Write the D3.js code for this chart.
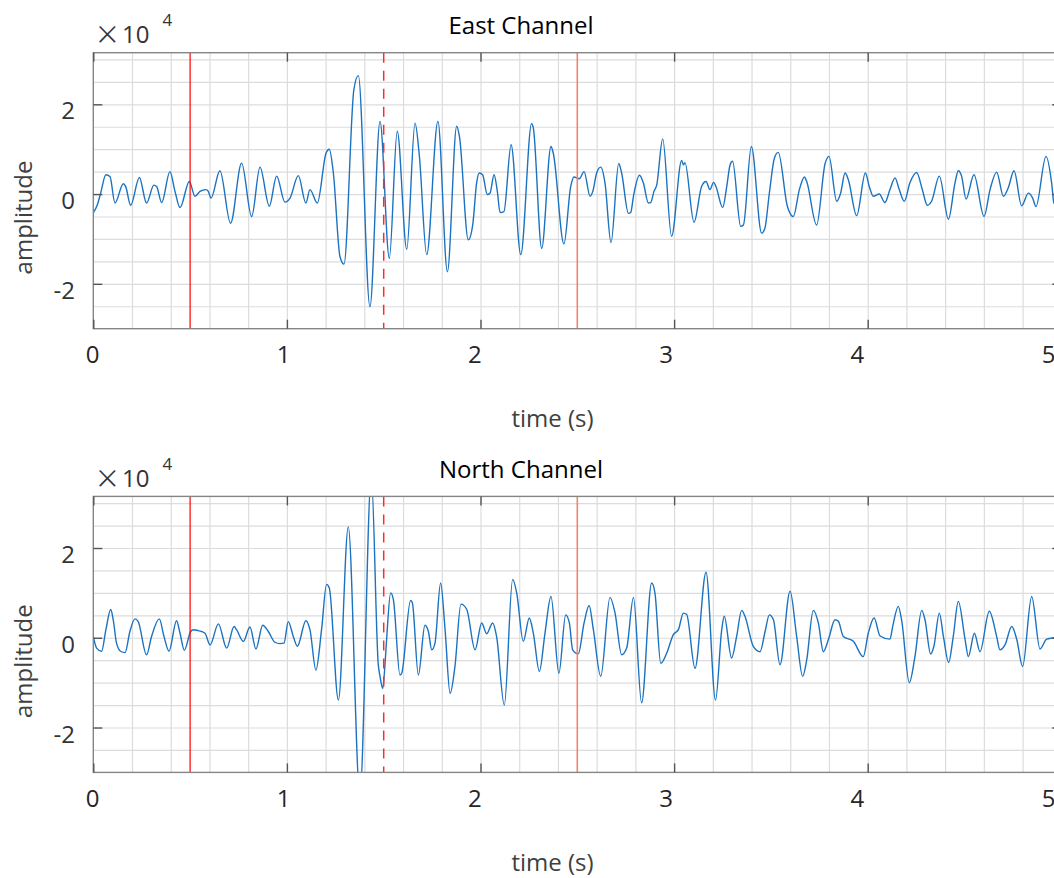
<!DOCTYPE html>
<html>
<head>
<meta charset="utf-8">
<script src="https://cdn.jsdelivr.net/npm/d3@7"></script>
<style>
  body { margin: 0; background: #fff; }
  svg { display: block; font-family: "Open Sans", sans-serif; }
</style>
</head>
<body>
<svg id="chart"></svg>
<script>
// amplitudes are in units of 10^4 counts, time in seconds
const eastTrace = [
  [0,-0.42],[0.021,-0.24],[0.038,0.02],[0.065,0.43],[0.086,0.39],[0.112,-0.2],[0.155,0.23],[0.167,0.17],
  [0.193,-0.25],[0.238,0.37],[0.275,-0.2],[0.313,0.2],[0.327,0.17],[0.353,-0.19],[0.396,0.5],[0.422,0.06],
  [0.448,-0.3],[0.496,0.28],[0.525,-0.05],[0.551,0.06],[0.582,0.1],[0.594,0.06],[0.608,-0.09],[0.654,0.52],
  [0.709,-0.65],[0.766,0.69],[0.818,-0.5],[0.861,0.6],[0.909,-0.27],[0.947,0.4],[0.990,-0.18],[1.016,-0.09],
  [1.059,0.41],[1.098,-0.2],[1.119,0.1],[1.157,-0.2],[1.202,0.91],[1.219,1.0],[1.240,0.47],[1.274,-1.39],
  [1.295,-1.56],[1.346,2.33],[1.369,2.64],[1.429,-2.51],[1.481,1.62],[1.529,-1.43],[1.570,1.40],[1.619,-1.23],
  [1.662,1.58],[1.684,0.86],[1.722,-1.35],[1.780,1.62],[1.829,-1.73],[1.877,1.51],[1.891,1.29],[1.937,-1.02],
  [1.960,-0.68],[1.980,0.25],[1.994,0.47],[2.011,0.43],[2.035,-0.01],[2.049,0.02],[2.070,0.43],[2.087,0.06],
  [2.101,-0.41],[2.121,-0.39],[2.158,1.1],[2.208,-1.35],[2.264,1.57],[2.273,1.47],[2.316,-1.21],[2.364,1.06],
  [2.376,0.91],[2.431,-1.11],[2.466,0.17],[2.483,0.38],[2.510,0.34],[2.535,0.5],[2.566,-0.05],[2.580,0.06],
  [2.600,0.47],[2.621,0.6],[2.643,0.25],[2.674,-1.08],[2.714,0.68],[2.729,0.47],[2.764,-0.43],[2.776,-0.41],
  [2.790,-0.05],[2.821,0.42],[2.841,0.25],[2.867,-0.2],[2.879,-0.19],[2.896,0.06],[2.910,0.2],[2.941,1.23],
  [2.987,-0.94],[3.039,0.75],[3.048,0.65],[3.056,0.7],[3.103,-0.63],[3.142,0.17],[3.165,0.28],[3.185,0.1],
  [3.204,0.26],[3.216,0.17],[3.251,-0.3],[3.272,0.17],[3.289,0.65],[3.302,0.73],[3.344,-0.72],[3.358,-0.69],
  [3.399,1.06],[3.452,-0.87],[3.469,-0.76],[3.492,0.02],[3.518,0.8],[3.538,0.93],[3.585,-0.27],[3.616,-0.5],
  [3.647,0.1],[3.673,0.38],[3.685,0.28],[3.736,-0.69],[3.780,0.68],[3.800,0.84],[3.840,-0.16],[3.860,0.02],
  [3.883,0.47],[3.900,0.32],[3.943,-0.48],[3.988,0.47],[4.008,0.17],[4.029,-0.05],[4.060,0],[4.089,-0.19],
  [4.115,0.1],[4.141,0.36],[4.163,0.1],[4.189,-0.16],[4.218,0.25],[4.253,0.48],[4.282,0.1],[4.308,-0.25],
  [4.330,-0.16],[4.370,0.4],[4.417,-0.56],[4.451,0.25],[4.468,0.52],[4.485,0.4],[4.508,-0.11],[4.549,0.43],
  [4.601,-0.5],[4.632,0.1],[4.666,0.49],[4.701,-0.05],[4.726,0.14],[4.756,0.52],[4.795,-0.26],[4.830,0.02],
  [4.852,-0.09],[4.869,-0.28],[4.921,0.84],[4.950,0.25],[4.962,-0.2],[5.0,-0.3]
];

const northTrace = [
  [0,0.03],[0.017,-0.23],[0.043,-0.3],[0.065,0.18],[0.09,0.63],[0.103,0.4],[0.12,-0.12],[0.141,-0.3],
  [0.164,-0.33],[0.189,0.14],[0.215,0.42],[0.232,0.36],[0.275,-0.38],[0.301,0.03],[0.341,0.42],[0.365,0.03],
  [0.391,-0.3],[0.43,0.38],[0.448,0.1],[0.47,-0.28],[0.503,0.14],[0.517,0.18],[0.542,0.16],[0.577,0.1],
  [0.603,-0.16],[0.646,0.31],[0.689,-0.23],[0.727,0.25],[0.740,0.18],[0.775,-0.08],[0.809,0.24],[0.84,-0.25],
  [0.875,0.28],[0.904,0.14],[0.938,-0.1],[0.964,-0.13],[0.985,-0.12],[1.007,0.36],[1.033,0.03],[1.054,-0.19],
  [1.098,0.38],[1.119,0.18],[1.15,-0.72],[1.179,0.18],[1.205,1.19],[1.219,1.11],[1.266,-1.39],[1.317,2.47],
  [1.377,-3.5],[1.436,3.6],[1.472,-0.6],[1.481,-0.86],[1.495,-1.13],[1.507,-0.57],[1.515,-0.04],[1.536,1.0],
  [1.550,0.85],[1.584,-0.83],[1.593,-0.79],[1.639,0.83],[1.648,0.78],[1.679,-0.83],[1.713,0.28],[1.731,0.14],
  [1.748,-0.27],[1.765,-0.12],[1.794,1.22],[1.817,0.18],[1.843,-1.24],[1.868,-0.64],[1.899,0.75],[1.929,0.63],
  [1.972,-0.27],[2.006,0.33],[2.032,0.09],[2.063,0.33],[2.083,0.03],[2.123,-1.5],[2.166,1.3],[2.187,1.0],
  [2.221,-0.08],[2.252,0.44],[2.273,0.1],[2.304,-0.75],[2.333,0.1],[2.364,0.92],[2.405,-0.79],[2.440,0.51],
  [2.459,0.33],[2.476,-0.27],[2.505,-0.36],[2.535,0.33],[2.561,0.72],[2.583,0.18],[2.621,-0.86],[2.669,0.9],
  [2.695,0.55],[2.729,-0.38],[2.755,-0.23],[2.790,0.9],[2.832,-1.45],[2.884,1.22],[2.901,1.0],[2.931,-0.57],
  [2.962,-0.34],[2.996,0.07],[3.022,0.18],[3.048,0.55],[3.065,0.52],[3.108,-0.68],[3.165,1.46],[3.214,-1.39],
  [3.246,0.18],[3.259,0.48],[3.297,-0.45],[3.323,0.03],[3.349,0.61],[3.366,0.48],[3.409,-0.19],[3.444,-0.31],
  [3.470,0.14],[3.492,0.51],[3.513,0.4],[3.547,-0.6],[3.599,1.04],[3.633,0.03],[3.664,-0.86],[3.685,-0.49],
  [3.719,0.61],[3.745,0.33],[3.771,-0.31],[3.797,-0.04],[3.831,0.4],[3.848,0.37],[3.874,0.03],[3.926,-0.08],
  [3.977,-0.42],[4.003,0.1],[4.033,0.44],[4.064,0.04],[4.115,-0.03],[4.129,0.25],[4.158,0.7],[4.175,0.4],
  [4.215,-1.0],[4.244,-0.42],[4.279,0.61],[4.296,0.4],[4.325,-0.36],[4.342,-0.19],[4.370,0.55],[4.391,0.03],
  [4.418,-0.55],[4.442,0.03],[4.468,0.81],[4.503,-0.04],[4.520,-0.42],[4.551,0.1],[4.580,-0.31],[4.628,0.59],
  [4.666,0.03],[4.683,-0.27],[4.709,-0.16],[4.744,0.25],[4.770,-0.04],[4.800,-0.64],[4.847,0.92],[4.890,-0.25],
  [4.924,-0.03],[4.959,0],[5.0,0.05]
];

const panelTitles = ['East Channel', 'North Channel'];
const xTickValues = [0, 1, 2, 3, 4, 5];
const yTickValues = [-2, 0, 2];
const markerTimes = [0.5, 1.5, 2.5];

let width = 1054;
let height = 878;
let margin = { left: 93.3 };
let plotW = 968;
let plotH = 276;
let panelTops = [52.7, 496.4];

let svg = d3.select('#chart')
  .attr('width', width)
  .attr('height', height);

let x = d3.scaleLinear().domain([0, 5]).range([0, plotW]);
let y = d3.scaleLinear().domain([-3, 3.15]).range([plotH, 0]);
// tick labels sit slightly left of their ticks in the original
let xLab = d3.scaleLinear().domain([0, 5]).range([92 - margin.left, 1048 - margin.left]);

const MARKER_STYLE = [
  { color: '#ff0000', width: 1.2, dash: null },
  { color: '#ff2a2a', width: 1.5, dash: '10,8' },
  { color: '#f4846c', width: 1.6, dash: null }
];

function drawPanel(i, trace) {
  let top = panelTops[i];
  let g = svg.append('g').attr('transform', `translate(${margin.left},${top})`);

  // grid (minor every 0.2 s, 0.5 units)
  g.append('g')
    .attr('transform', `translate(0,${plotH})`)
    .call(d3.axisBottom(x).tickValues(d3.range(1, 25).map(k => k * 0.2)).tickSize(-plotH).tickFormat(''))
    .call(a => a.select('.domain').remove())
    .call(a => a.selectAll('line').attr('stroke', '#dcdcdc').attr('stroke-width', 1.2));

  g.append('g')
    .call(d3.axisLeft(y).tickValues(d3.range(-5, 7).map(k => k * 0.5)).tickSize(-plotW).tickFormat(''))
    .call(a => a.select('.domain').remove())
    .call(a => a.selectAll('line').attr('stroke', '#dcdcdc').attr('stroke-width', 1.2));

  // waveform, clipped to the axes box
  let clipId = 'clip-' + i;
  g.append('clipPath').attr('id', clipId)
    .append('rect').attr('width', plotW).attr('height', plotH);

  let line = d3.line()
    .x(d => x(d[0]))
    .y(d => y(d[1]))
    .curve(d3.curveMonotoneX);

  g.append('path')
    .datum(trace)
    .attr('clip-path', `url(#${clipId})`)
    .attr('fill', 'none')
    .attr('stroke', '#1a72c0')
    .attr('stroke-width', 1.4)
    .attr('stroke-linejoin', 'round')
    .attr('d', line);

  // picked time markers
  g.selectAll('.marker')
    .data(markerTimes)
    .enter()
    .append('line')
      .attr('class', 'marker')
      .attr('x1', d => x(d))
      .attr('x2', d => x(d))
      .attr('y1', 0)
      .attr('y2', plotH)
      .attr('stroke', (d, k) => MARKER_STYLE[k].color)
      .attr('stroke-width', (d, k) => MARKER_STYLE[k].width)
      .attr('stroke-dasharray', (d, k) => MARKER_STYLE[k].dash);

  // box
  g.append('rect')
    .attr('width', plotW)
    .attr('height', plotH)
    .attr('fill', 'none')
    .attr('stroke', '#858585')
    .attr('stroke-width', 1.4);

  // inward ticks
  let tickStyle = a => {
    a.select('.domain').remove();
    a.selectAll('line').attr('stroke', '#555').attr('stroke-width', 1.4);
  };
  g.append('g').attr('transform', `translate(0,${plotH})`)
    .call(d3.axisBottom(x).tickValues(xTickValues).tickSize(-9).tickFormat('')).call(tickStyle);
  g.append('g')
    .call(d3.axisTop(x).tickValues(xTickValues).tickSize(-9).tickFormat('')).call(tickStyle);
  g.append('g')
    .call(d3.axisLeft(y).tickValues(yTickValues).tickSize(-9).tickFormat('')).call(tickStyle);
  g.append('g').attr('transform', `translate(${plotW},0)`)
    .call(d3.axisRight(y).tickValues(yTickValues).tickSize(-9).tickFormat('')).call(tickStyle);

  // tick labels (plain hyphen minus, as in the original)
  g.append('g').attr('transform', `translate(0,${plotH})`)
    .call(d3.axisBottom(xLab).tickValues(xTickValues).tickSize(0).tickPadding(17.6).tickFormat(d => String(d)))
    .call(a => a.select('.domain').remove())
    .call(a => a.selectAll('text').attr('font-size', 24).attr('font-family', '"Open Sans", sans-serif').attr('fill', '#262626'));

  g.append('g').attr('transform', 'translate(0,6.8)')
    .call(d3.axisLeft(y).tickValues(yTickValues).tickSize(0).tickPadding(18.3).tickFormat(d => String(d)))
    .call(a => a.select('.domain').remove())
    .call(a => a.selectAll('text').attr('font-size', 24).attr('font-family', '"Open Sans", sans-serif').attr('fill', '#333'));

  // exponent label
  g.append('text')
    .attr('x', 96.5 - margin.left)
    .attr('y', -4.5)
    .attr('font-size', 38)
    .attr('font-weight', 300)
    .attr('fill', '#333')
    .text('×');
  g.append('text')
    .attr('x', 122 - margin.left)
    .attr('y', -9.4)
    .attr('font-size', 24)
    .attr('fill', '#333')
    .text('10');
  g.append('text')
    .attr('x', 162.5 - margin.left)
    .attr('y', -26.4)
    .attr('font-size', 17)
    .attr('fill', '#333')
    .text('4');

  // title
  g.append('text')
    .attr('x', 521 - margin.left)
    .attr('y', -18.7)
    .attr('text-anchor', 'middle')
    .attr('font-size', 24)
    .attr('fill', '#000')
    .text(panelTitles[i]);

  // axis labels
  g.append('text')
    .attr('x', 552.5 - margin.left)
    .attr('y', 374.6)
    .attr('text-anchor', 'middle')
    .attr('font-size', 24)
    .attr('fill', '#404040')
    .text('time (s)');

  g.append('text')
    .attr('transform', `translate(${32 - margin.left},${164.8}) rotate(-90)`)
    .attr('text-anchor', 'middle')
    .attr('font-size', 24)
    .attr('fill', '#404040')
    .text('amplitude');
}

drawPanel(0, eastTrace);
drawPanel(1, northTrace);
</script>
</body>
</html>
